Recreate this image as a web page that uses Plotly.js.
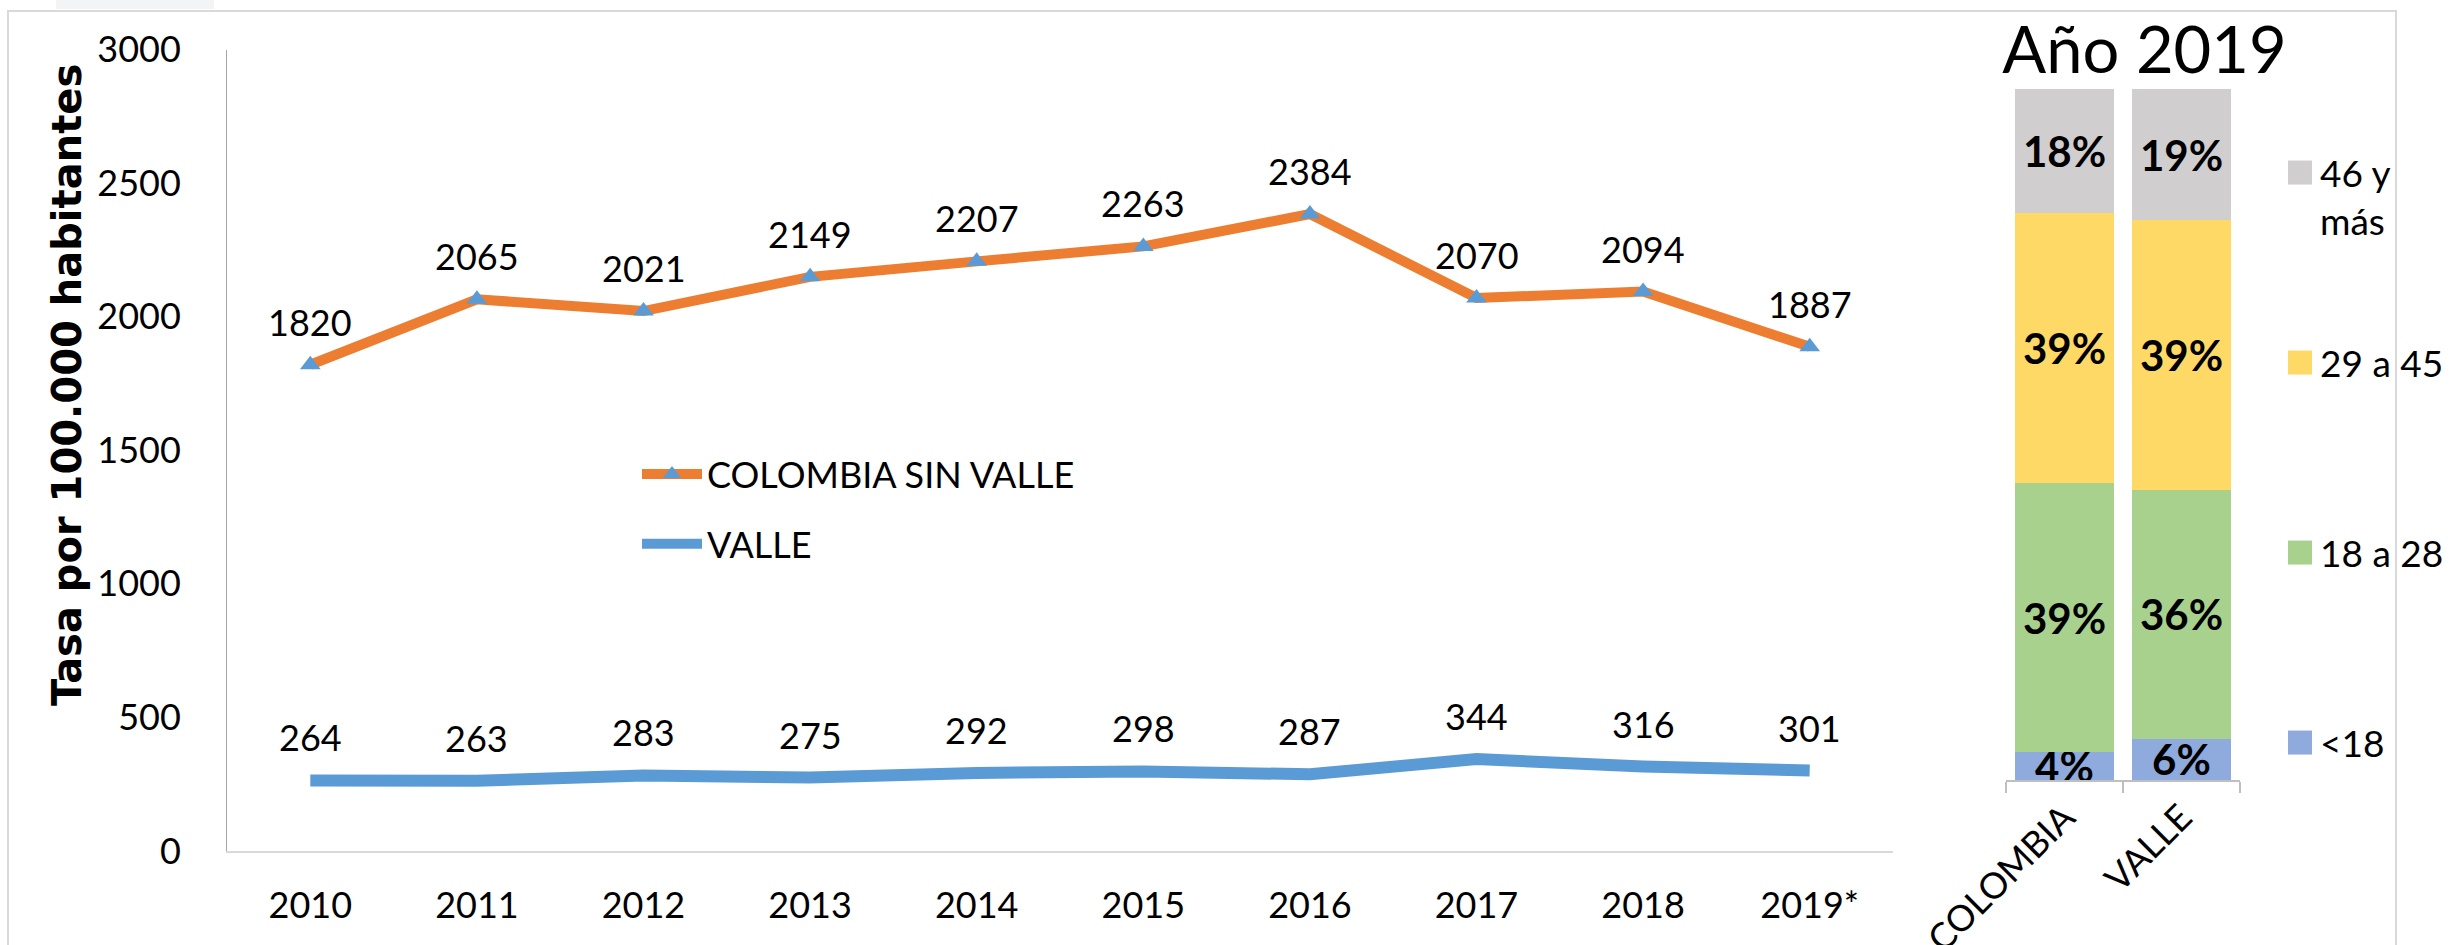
<!DOCTYPE html>
<html><head><meta charset="utf-8">
<script src="https://cdn.plot.ly/plotly-3.0.1.min.js"></script>
<style>html,body{margin:0;padding:0;background:#fff;} #chart{width:2453px;height:945px;}</style>
</head><body><div id="chart"></div>
<script>
// ---- data ----
const years = ['2010','2011','2012','2013','2014','2015','2016','2017','2018','2019*'];
const colombiaSinValle = [1820,2065,2021,2149,2207,2263,2384,2070,2094,1887];
const valle = [264,263,283,275,292,298,287,344,316,301];
const yTicks = [0,500,1000,1500,2000,2500,3000];
const barCategories = ['COLOMBIA','VALLE'];
const pctMenor18 = [4,6];
const pct18a28 = [39,36];
const pct29a45 = [39,39];
const pct46mas = [18,19];
const ageLabels = ['<18','18 a 28','29 a 45','46 y<br>más'];

// ---- helpers ----
const W = 2453, H = 945;
const px = x => x / W;
const py = y => 1 - y / H;
const FONT = 'Lato, "Open Sans", sans-serif';

const lineTraces = [
  {type:'scatter', mode:'lines+markers', name:'COLOMBIA SIN VALLE', x:years, y:colombiaSinValle,
   line:{color:'#ED7D31', width:10}, marker:{symbol:'triangle-up', size:18, color:'#5B9BD5'},
   legend:'legend', legendgroup:'g1', hoverinfo:'skip'},
  {type:'scatter', mode:'lines', name:'VALLE', x:years, y:valle,
   line:{color:'#5B9BD5', width:12}, legend:'legend', legendgroup:'g2', hoverinfo:'skip'}
];

const barCommon = {type:'bar', x:barCategories, xaxis:'x2', yaxis:'y2',
  texttemplate:'%{y}%', textposition:'inside', insidetextanchor:'middle', textangle:0,
  constraintext:'none', cliponaxis:false,
  textfont:{family:FONT, size:42, weight:'bold', color:'#000'},
  insidetextfont:{family:FONT, size:42, weight:'bold', color:'#000'},
  hoverinfo:'skip'};
const barTraces = [
  Object.assign({}, barCommon, {name:ageLabels[0], y:pctMenor18, marker:{color:'#8FAADC'}, legend:'legend5'}),
  Object.assign({}, barCommon, {name:ageLabels[1], y:pct18a28, marker:{color:'#A9D18E'}, legend:'legend4'}),
  Object.assign({}, barCommon, {name:ageLabels[2], y:pct29a45, marker:{color:'#FFD966'}, legend:'legend3'}),
  Object.assign({}, barCommon, {name:ageLabels[3], y:pct46mas, marker:{color:'#D0CECE'}, legend:'legend2'})
];

const labelAnn = [];
years.forEach((yr, i) => {
  labelAnn.push({x:i, y:colombiaSinValle[i], xref:'x', yref:'y', text:String(colombiaSinValle[i]),
    showarrow:false, yshift:43, yanchor:'middle', font:{family:FONT, size:36, color:'#000'}});
  labelAnn.push({x:i, y:valle[i], xref:'x', yref:'y', text:String(valle[i]),
    showarrow:false, yshift:43, yanchor:'middle', font:{family:FONT, size:36, color:'#000'}});
});
labelAnn.push({text:'Tasa por 100.000 habitantes', xref:'paper', yref:'paper', x:px(67), y:py(385),
  xanchor:'center', yanchor:'middle', textangle:-90, showarrow:false,
  font:{family:'"DejaVu Sans", sans-serif', size:40, weight:'bold', color:'#000'}});

const legRight = (yTop) => ({x:px(2280), y:py(yTop), xanchor:'left', yanchor:'top', valign:'top',
  bgcolor:'rgba(0,0,0,0)', font:{family:FONT, size:37, color:'#000'}});

const layout = {
  width:W, height:H, margin:{l:0, r:0, t:0, b:0},
  paper_bgcolor:'#fff', plot_bgcolor:'rgba(0,0,0,0)',
  title:{text:'Año 2019', x:px(2144.5), xanchor:'center', y:py(50), yanchor:'middle', xref:'paper', yref:'paper',
    font:{family:FONT, size:65, color:'#000'}},
  xaxis:{domain:[px(227), px(1893)], type:'category', range:[-0.5, 9.5], showline:true, linecolor:'#d9d9d9', linewidth:2,
    ticks:'', showgrid:false, zeroline:false, ticklabelstandoff:22, tickfont:{family:FONT, size:36, color:'#000'}, fixedrange:true},
  yaxis:{domain:[py(851), py(49.5)], range:[0,3000], tickvals:yTicks, showline:true, linecolor:'#a6a6a6', linewidth:1,
    ticks:'', showgrid:false, zeroline:false, ticklabelstandoff:38, tickfont:{family:FONT, size:36, color:'#000'}, fixedrange:true},
  xaxis2:{domain:[px(2006), px(2240)], anchor:'y2', type:'category', showline:true, linecolor:'#bfbfbf', linewidth:2,
    ticks:'outside', tickson:'boundaries', ticklen:11, tickcolor:'#bfbfbf', tickwidth:2, tickangle:-45,
    showgrid:false, zeroline:false, tickfont:{family:FONT, size:36, color:'#000'}, fixedrange:true},
  yaxis2:{domain:[py(780), py(89)], anchor:'x2', range:[0,100], visible:false, fixedrange:true},
  barmode:'stack', bargap:0.154,
  legend:{x:px(637), y:py(444), xanchor:'left', yanchor:'top', bgcolor:'rgba(0,0,0,0)', tracegroupgap:20,
    itemwidth:60, font:{family:FONT, size:36, color:'#000'}},
  legend2:legRight(142), legend3:legRight(332), legend4:legRight(522), legend5:legRight(712),
  annotations:labelAnn,
  shapes:[
    {type:'rect', xref:'paper', yref:'paper', x0:px(8), x1:px(2396), y0:-0.05, y1:py(11), line:{color:'#d9d9d9', width:2}, layer:'below'},
    {type:'rect', xref:'paper', yref:'paper', x0:px(56), x1:px(214), y0:py(9), y1:1.01, fillcolor:'#f3f4f6', line:{width:0}, layer:'below'}
  ],
  showlegend:true
};

Plotly.newPlot('chart', lineTraces.concat(barTraces), layout, {staticPlot:true, displayModeBar:false}).then(gd => {
  gd.querySelectorAll('.legendpoints path').forEach(p => {
    if (p.classList.contains('scatterpts')) return;
    let bb;
    try { bb = p.getBBox(); } catch (e) { return; }
    if (Math.abs(bb.width - 12) < 1.5 && Math.abs(bb.height - 12) < 1.5) {
      const t = p.getAttribute('transform') || '';
      p.setAttribute('transform', t + ' scale(2)');
    }
  });
});
</script>
</body></html>
